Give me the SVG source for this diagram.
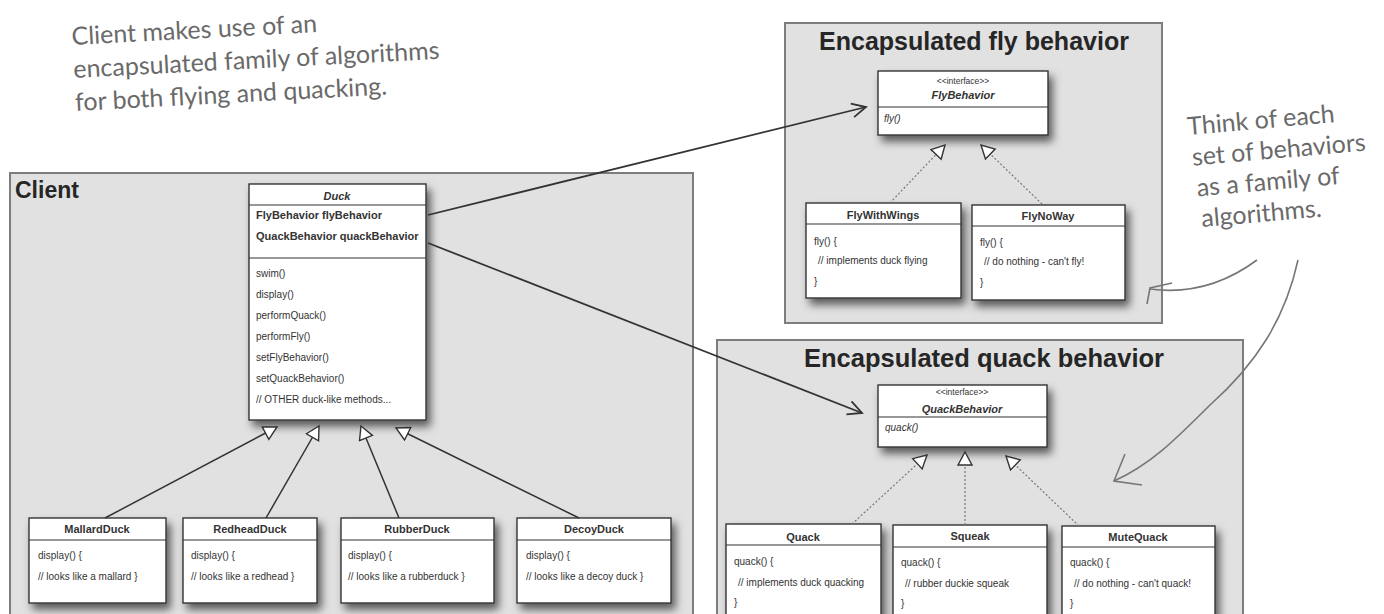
<svg xmlns="http://www.w3.org/2000/svg" width="1384" height="614" viewBox="0 0 1384 614">
<style>
.cont{fill:#e1e1e1;stroke:#7d7d7d;stroke-width:2}
.box{fill:#fff;stroke:#333;stroke-width:1.4}
.sep{stroke:#333;stroke-width:1.2}
.t{font-family:"Liberation Sans Narrow","Liberation Sans",Arial,sans-serif;font-size:10px;fill:#333}
.b{font-weight:bold;font-size:11px}
.i{font-style:italic}
.c{text-anchor:middle}
.s{font-size:8.5px}
.ttl{font-family:"Liberation Sans",Arial,sans-serif;font-weight:bold;fill:#262626}
.hand{font-family:Lato,"Open Sans",sans-serif;font-size:25px;fill:#6a6a6a}
.inh{stroke:#333;stroke-width:1.5;fill:none;marker-end:url(#tri)}
.real{stroke:#777;stroke-width:1.2;stroke-dasharray:2 2;fill:none;marker-end:url(#tri)}
.assoc{stroke:#333;stroke-width:1.8;fill:none;marker-end:url(#open)}
.curve{stroke:#777;stroke-width:1.6;fill:none}
</style>
<defs>
<filter id="sh" x="-20%" y="-20%" width="150%" height="150%">
<feDropShadow dx="4" dy="6" stdDeviation="4" flood-color="#000" flood-opacity="0.6"/>
</filter>
<marker id="tri" markerUnits="userSpaceOnUse" markerWidth="18" markerHeight="18" refX="14" refY="8" orient="auto">
<path d="M1,1 L14,8 L1,15 Z" fill="#fff" stroke="#333" stroke-width="1.4"/>
</marker>
<marker id="open" markerUnits="userSpaceOnUse" markerWidth="18" markerHeight="18" refX="15" refY="8" orient="auto">
<path d="M1,1 L15,8 L1,15" fill="none" stroke="#333" stroke-width="1.8"/>
</marker>
</defs>
<rect width="1384" height="614" fill="#fff"/>

<g id="note-client">
<text class="hand" transform="rotate(-3 72 45)"><tspan x="72" y="45">Client makes use of an</tspan><tspan x="72" y="78">encapsulated family of algorithms</tspan><tspan x="72" y="111">for both flying and quacking.</tspan></text>
</g>

<g id="client">
<rect class="cont" x="10" y="173" width="683" height="445"/>
<text class="ttl" x="15" y="198" font-size="23">Client</text>
</g>

<g id="fly-group">
<rect class="cont" x="785" y="23" width="377" height="300"/>
<text class="ttl c" x="974" y="50" font-size="25">Encapsulated fly behavior</text>
</g>

<g id="quack-group">
<rect class="cont" x="717" y="340" width="526" height="280"/>
<text class="ttl c" x="984" y="367" font-size="25.5">Encapsulated quack behavior</text>
</g>

<g id="duck">
<rect class="box" x="249" y="184" width="177" height="236" filter="url(#sh)"/>
<line class="sep" x1="249" y1="205" x2="426" y2="205"/>
<line class="sep" x1="249" y1="258" x2="426" y2="258"/>
<text class="t b i c" x="337" y="200">Duck</text>
<text class="t b" x="256" y="219">FlyBehavior flyBehavior</text>
<text class="t b" x="256" y="240">QuackBehavior quackBehavior</text>
<text class="t" x="256" y="277">swim()</text>
<text class="t" x="256" y="298">display()</text>
<text class="t" x="256" y="319">performQuack()</text>
<text class="t" x="256" y="340">performFly()</text>
<text class="t" x="256" y="361">setFlyBehavior()</text>
<text class="t" x="256" y="382">setQuackBehavior()</text>
<text class="t" x="256" y="403">// OTHER duck-like methods...</text>
</g>

<g id="mallard">
<rect class="box" x="29" y="518" width="137" height="85" filter="url(#sh)"/>
<line class="sep" x1="29" y1="540" x2="166" y2="540"/>
<text class="t b c" x="97" y="533">MallardDuck</text>
<text class="t" x="38" y="559">display() {</text>
<text class="t" x="38" y="580">// looks like a mallard }</text>
</g>
<g id="redhead">
<rect class="box" x="183" y="518" width="134" height="85" filter="url(#sh)"/>
<line class="sep" x1="183" y1="540" x2="317" y2="540"/>
<text class="t b c" x="250" y="533">RedheadDuck</text>
<text class="t" x="191" y="559">display() {</text>
<text class="t" x="191" y="580">// looks like a redhead }</text>
</g>
<g id="rubber">
<rect class="box" x="341" y="518" width="153" height="85" filter="url(#sh)"/>
<line class="sep" x1="341" y1="540" x2="494" y2="540"/>
<text class="t b c" x="417" y="533">RubberDuck</text>
<text class="t" x="348" y="559">display() {</text>
<text class="t" x="348" y="580">// looks like a rubberduck }</text>
</g>
<g id="decoy">
<rect class="box" x="517" y="518" width="154" height="85" filter="url(#sh)"/>
<line class="sep" x1="517" y1="540" x2="671" y2="540"/>
<text class="t b c" x="594" y="533">DecoyDuck</text>
<text class="t" x="526" y="559">display() {</text>
<text class="t" x="526" y="580">// looks like a decoy duck }</text>
</g>

<g id="flybehavior">
<rect class="box" x="878" y="71" width="170" height="64" filter="url(#sh)"/>
<line class="sep" x1="878" y1="107" x2="1048" y2="107"/>
<text class="t s c" x="963" y="84">&lt;&lt;interface&gt;&gt;</text>
<text class="t b i c" x="963" y="99">FlyBehavior</text>
<text class="t i" x="884" y="122">fly()</text>
</g>
<g id="flywithwings">
<rect class="box" x="806" y="203" width="155" height="95" filter="url(#sh)"/>
<line class="sep" x1="806" y1="224" x2="961" y2="224"/>
<text class="t b c" x="883" y="219">FlyWithWings</text>
<text class="t" x="814" y="245">fly() {</text>
<text class="t" x="818" y="264">// implements duck flying</text>
<text class="t" x="814" y="285">}</text>
</g>
<g id="flynoway">
<rect class="box" x="972" y="205" width="153" height="95" filter="url(#sh)"/>
<line class="sep" x1="972" y1="226" x2="1125" y2="226"/>
<text class="t b c" x="1048" y="220">FlyNoWay</text>
<text class="t" x="980" y="246">fly() {</text>
<text class="t" x="984" y="265">// do nothing - can't fly!</text>
<text class="t" x="980" y="286">}</text>
</g>

<g id="quackbehavior">
<rect class="box" x="878" y="385" width="169" height="62" filter="url(#sh)"/>
<line class="sep" x1="878" y1="417" x2="1047" y2="417"/>
<text class="t s c" x="962" y="395">&lt;&lt;interface&gt;&gt;</text>
<text class="t b i c" x="962" y="413">QuackBehavior</text>
<text class="t i" x="885" y="431">quack()</text>
</g>
<g id="quack">
<rect class="box" x="726" y="524" width="155" height="100" filter="url(#sh)"/>
<line class="sep" x1="726" y1="545" x2="881" y2="545"/>
<text class="t b c" x="803" y="541">Quack</text>
<text class="t" x="734" y="565">quack() {</text>
<text class="t" x="738" y="586">// implements duck quacking</text>
<text class="t" x="734" y="606">}</text>
</g>
<g id="squeak">
<rect class="box" x="893" y="525" width="154" height="100" filter="url(#sh)"/>
<line class="sep" x1="893" y1="547" x2="1047" y2="547"/>
<text class="t b c" x="970" y="540">Squeak</text>
<text class="t" x="901" y="566">quack() {</text>
<text class="t" x="905" y="587">// rubber duckie squeak</text>
<text class="t" x="901" y="607">}</text>
</g>
<g id="mutequack">
<rect class="box" x="1062" y="526" width="153" height="100" filter="url(#sh)"/>
<line class="sep" x1="1062" y1="547" x2="1215" y2="547"/>
<text class="t b c" x="1138" y="541">MuteQuack</text>
<text class="t" x="1070" y="566">quack() {</text>
<text class="t" x="1074" y="587">// do nothing - can't quack!</text>
<text class="t" x="1070" y="607">}</text>
</g>

<g id="connectors">
<path class="inh" d="M105,518 L277,427"/>
<path class="inh" d="M266,518 L319,426"/>
<path class="inh" d="M399,518 L361,426"/>
<path class="inh" d="M579,518 L396,428"/>
<path class="real" d="M890,203 L945,145"/>
<path class="real" d="M1042,204 L981,145"/>
<path class="real" d="M852,524 L927,455"/>
<path class="real" d="M965,525 L965,452"/>
<path class="real" d="M1079,526 L1006,456"/>
<path class="assoc" d="M428,215 L866,107"/>
<path class="assoc" d="M428,243 L862,413"/>
</g>

<g id="note-families">
<text class="hand" transform="rotate(-5 1188 135)"><tspan x="1188" y="135">Think of each</tspan><tspan x="1190" y="166">set of behaviors</tspan><tspan x="1192" y="197">as a family of</tspan><tspan x="1194" y="228">algorithms.</tspan></text>
<path class="curve" d="M1257,260 C1230,280 1195,295 1150,289"/>
<path class="curve" d="M1172,283 L1150,288 L1147,304"/>
<path class="curve" d="M1298,260 C1285,320 1255,365 1210,405 C1175,440 1150,465 1114,481"/>
<path class="curve" d="M1125,454 L1114,481 L1142,485"/>
</g>
</svg>
